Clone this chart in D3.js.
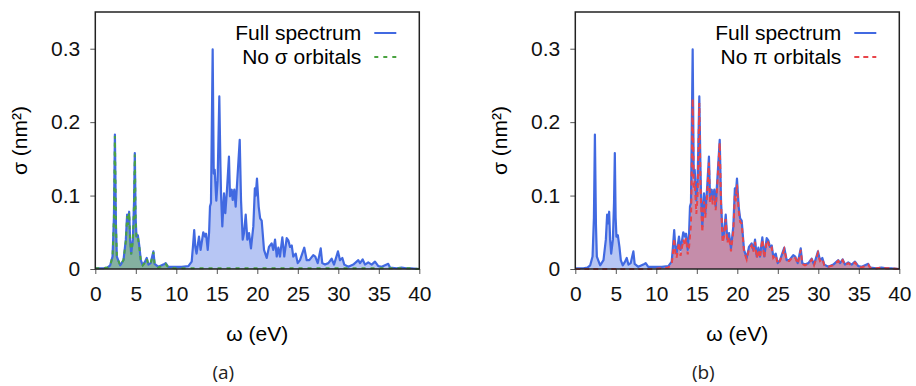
<!DOCTYPE html>
<html>
<head>
  <script src="https://cdnjs.cloudflare.com/ajax/libs/d3/7.8.5/d3.min.js" type="text/javascript"></script>
  <style>
    body { margin: 0; background: #fff; }
    text { font-family: "Liberation Sans", Arial, sans-serif; }
  </style>
</head>
<body>
  <svg id="chart" width="916" height="386"></svg>
  <script>

// photon energy grid (eV), shared by all three spectra
var omega = [0.0, 1.0, 1.5, 1.84, 2.13, 2.3, 2.42, 2.55, 2.66, 3.07, 3.48, 3.77, 3.93, 4.06, 4.18, 4.3, 4.43, 4.64, 4.78, 4.88,
  4.98, 5.08, 5.25, 5.45, 5.62, 5.86, 6.14, 6.35, 6.56, 6.84, 7.17, 7.33, 7.78, 8.4, 8.69, 9.01, 9.84, 10.67, 11.49, 11.9,
  12.05, 12.21, 12.35, 12.5, 12.8, 13.0, 13.33, 13.55, 13.67, 13.88, 14.05, 14.16, 14.28, 14.49, 14.62, 14.74, 14.94, 15.1, 15.31, 15.45,
  15.52, 15.68, 15.89, 16.05, 16.26, 16.5, 16.63, 16.84, 16.96, 17.16, 17.33, 17.53, 17.83, 17.99, 18.2, 18.36, 18.57, 18.77, 18.98, 19.22,
  19.51, 19.7, 19.8, 19.96, 20.17, 20.35, 20.54, 20.83, 21.16, 21.44, 21.77, 21.98, 22.19, 22.4, 22.6, 22.8, 23.09, 23.33, 23.63, 23.83,
  24.04, 24.25, 24.44, 24.74, 24.99, 25.27, 25.8, 26.1, 26.42, 26.91, 27.16, 27.46, 27.83, 28.02, 28.36, 28.77, 29.18, 29.47, 29.96, 30.21,
  30.5, 30.74, 31.24, 31.85, 32.47, 32.68, 33.01, 33.3, 33.7, 34.12, 34.53, 34.94, 35.36, 36.17, 36.38, 37.2, 37.8, 38.4, 39.0, 40.0];

// cross section (nm^2), full spectrum
var fullSpectrum = [0.001, 0.001, 0.002, 0.005, 0.017, 0.07, 0.183, 0.06, 0.017, 0.005, 0.012, 0.040, 0.074, 0.062, 0.078, 0.04, 0.021, 0.040, 0.09, 0.158,
  0.07, 0.044, 0.046, 0.030, 0.012, 0.005, 0.010, 0.015, 0.006, 0.008, 0.024, 0.007, 0.003, 0.006, 0.008, 0.003, 0.003, 0.003, 0.004, 0.010,
  0.03, 0.053, 0.03, 0.021, 0.044, 0.026, 0.050, 0.044, 0.048, 0.026, 0.05, 0.085, 0.090, 0.299, 0.130, 0.135, 0.093, 0.12, 0.235, 0.14,
  0.103, 0.058, 0.103, 0.076, 0.108, 0.153, 0.099, 0.108, 0.094, 0.108, 0.085, 0.121, 0.176, 0.094, 0.040, 0.049, 0.074, 0.040, 0.049, 0.028,
  0.058, 0.110, 0.1, 0.123, 0.085, 0.069, 0.066, 0.026, 0.015, 0.030, 0.035, 0.026, 0.040, 0.017, 0.029, 0.017, 0.043, 0.017, 0.042, 0.039,
  0.030, 0.032, 0.017, 0.021, 0.008, 0.012, 0.029, 0.012, 0.012, 0.019, 0.017, 0.008, 0.028, 0.008, 0.006, 0.008, 0.014, 0.006, 0.024, 0.012,
  0.015, 0.006, 0.003, 0.006, 0.012, 0.008, 0.013, 0.006, 0.009, 0.006, 0.010, 0.004, 0.003, 0.007, 0.002, 0.001, 0.002, 0.001, 0.001, 0.0];

// spectrum without sigma orbitals
var noSigma = [0.001, 0.001, 0.002, 0.005, 0.017, 0.07, 0.181, 0.06, 0.017, 0.005, 0.012, 0.038, 0.072, 0.06, 0.077, 0.04, 0.02, 0.038, 0.088, 0.156,
  0.068, 0.042, 0.044, 0.028, 0.011, 0.005, 0.009, 0.014, 0.006, 0.008, 0.023, 0.006, 0.002, 0.005, 0.007, 0.002, 0.001, 0.001, 0.001, 0.001,
  0.001, 0.001, 0.001, 0.001, 0.001, 0.001, 0.001, 0.001, 0.001, 0.001, 0.001, 0.001, 0.001, 0.001, 0.001, 0.001, 0.001, 0.001, 0.001, 0.001,
  0.001, 0.001, 0.001, 0.001, 0.001, 0.001, 0.001, 0.001, 0.001, 0.001, 0.001, 0.001, 0.001, 0.001, 0.001, 0.001, 0.001, 0.001, 0.001, 0.001,
  0.001, 0.001, 0.001, 0.001, 0.001, 0.001, 0.001, 0.001, 0.001, 0.001, 0.001, 0.001, 0.001, 0.001, 0.001, 0.001, 0.001, 0.001, 0.001, 0.001,
  0.001, 0.001, 0.001, 0.001, 0.001, 0.001, 0.001, 0.001, 0.001, 0.001, 0.001, 0.001, 0.001, 0.001, 0.001, 0.001, 0.001, 0.001, 0.001, 0.001,
  0.001, 0.001, 0.001, 0.001, 0.001, 0.001, 0.001, 0.001, 0.001, 0.001, 0.001, 0.001, 0.001, 0.001, 0.001, 0.001, 0.001, 0.001, 0.001, 0.0];

// spectrum without pi orbitals
var noPi = [0.0, 0.0, 0.0, 0.0, 0.0, 0.0, 0.0, 0.0, 0.0, 0.0, 0.0, 0.0, 0.0, 0.0, 0.0, 0.0, 0.0, 0.0, 0.0, 0.0,
  0.0, 0.0, 0.0, 0.0, 0.0, 0.0, 0.0, 0.0, 0.0, 0.0, 0.0, 0.0, 0.0, 0.0, 0.0, 0.0, 0.0, 0.001, 0.002, 0.007,
  0.02, 0.042, 0.022, 0.015, 0.036, 0.018, 0.040, 0.032, 0.042, 0.020, 0.03, 0.045, 0.060, 0.232, 0.110, 0.120, 0.075, 0.10, 0.226, 0.12,
  0.090, 0.050, 0.092, 0.070, 0.100, 0.145, 0.090, 0.100, 0.088, 0.100, 0.080, 0.115, 0.172, 0.090, 0.036, 0.044, 0.068, 0.036, 0.044, 0.024,
  0.052, 0.100, 0.092, 0.115, 0.080, 0.064, 0.062, 0.024, 0.013, 0.027, 0.032, 0.023, 0.037, 0.015, 0.026, 0.015, 0.040, 0.015, 0.039, 0.036,
  0.027, 0.029, 0.015, 0.019, 0.007, 0.011, 0.027, 0.011, 0.011, 0.017, 0.015, 0.007, 0.026, 0.007, 0.005, 0.007, 0.013, 0.005, 0.022, 0.011,
  0.014, 0.005, 0.003, 0.005, 0.011, 0.007, 0.012, 0.005, 0.008, 0.005, 0.009, 0.003, 0.002, 0.006, 0.002, 0.001, 0.002, 0.001, 0.001, 0.0];

var xTicks = [0, 5, 10, 15, 20, 25, 30, 35, 40];
var yTicks = [0, 0.1, 0.2, 0.3];

var svg = d3.select("#chart");

function drawPanel(left, other, otherName, otherLine, otherFill, dash, caption) {
  var right = left + 324, top = 12, bottom = 269;

  var x = d3.scaleLinear().domain([0, 40]).range([left, right]);
  var y = d3.scaleLinear().domain([0, 0.35]).range([bottom, top]);

  var g = svg.append("g");

  var area = function(vals) {
    return d3.area()
      .x(function(d, i) { return x(omega[i]); })
      .y0(y(0))
      .y1(function(d) { return y(d); })(vals);
  };
  var line = function(vals) {
    return d3.line()
      .x(function(d, i) { return x(omega[i]); })
      .y(function(d) { return y(d); })(vals);
  };

  // fills
  g.append("path").attr("d", area(fullSpectrum)).attr("fill", "rgba(65,105,225,0.38)");
  g.append("path").attr("d", area(other)).attr("fill", otherFill);

  // lines
  g.append("path").attr("d", line(fullSpectrum))
    .attr("fill", "none").attr("stroke", "#4169e1").attr("stroke-width", 2.2).attr("stroke-linejoin", "round");
  g.append("path").attr("d", line(other))
    .attr("fill", "none").attr("stroke", otherLine).attr("stroke-width", 2).attr("stroke-dasharray", dash);

  // axes
  var xAxis = g.append("g").attr("transform", "translate(0," + bottom + ")")
    .call(d3.axisBottom(x).tickValues(xTicks).tickSize(5).tickPadding(12));
  var yAxis = g.append("g").attr("transform", "translate(" + left + ",0)")
    .call(d3.axisLeft(y).tickValues(yTicks).tickSize(5).tickPadding(10)
      .tickFormat(function(d) { return d === 0 ? "0" : d3.format(".1f")(d); }));
  [xAxis, yAxis].forEach(function(a) {
    a.select(".domain").remove();
    a.selectAll("line").attr("stroke", "#555");
    a.selectAll("text").attr("font-size", 21).attr("fill", "#111")
      .style("font-family", "'Liberation Sans', Arial, sans-serif");
  });

  // frame
  g.append("rect").attr("x", left).attr("y", top).attr("width", right - left).attr("height", bottom - top)
    .attr("fill", "none").attr("stroke", "#222").attr("stroke-width", 1.5);

  // axis titles
  g.append("text").attr("x", (left + right) / 2).attr("y", 341).attr("text-anchor", "middle")
    .attr("font-size", 21).text("ω (eV)");
  g.append("text").attr("transform", "translate(" + (left - 68) + "," + ((top + bottom) / 2) + ") rotate(-90)")
    .attr("text-anchor", "middle").attr("font-size", 21).text("σ (nm²)");

  // legend
  var lx = right - 58;
  g.append("text").attr("x", lx).attr("y", 40).attr("text-anchor", "end").attr("font-size", 21).text("Full spectrum");
  g.append("line").attr("x1", lx + 13).attr("x2", lx + 35).attr("y1", 33).attr("y2", 33)
    .attr("stroke", "#4169e1").attr("stroke-width", 2);
  g.append("text").attr("x", lx).attr("y", 64).attr("text-anchor", "end").attr("font-size", 21).text(otherName);
  g.append("line").attr("x1", lx + 13).attr("x2", lx + 35).attr("y1", 57).attr("y2", 57)
    .attr("stroke", otherLine).attr("stroke-width", 2).attr("stroke-dasharray", dash);

  // caption
  g.append("text").attr("x", (left + right) / 2 - 34).attr("y", 379).attr("text-anchor", "middle")
    .attr("font-size", 19).style("font-family", "'Open Sans', sans-serif").attr("fill", "#222").text(caption);
}

drawPanel(95.3, noSigma, "No σ orbitals", "#4aa340", "rgba(70,150,60,0.45)", "4,5", "(a)");
drawPanel(575.3, noPi, "No π orbitals", "#e8454a", "rgba(215,70,80,0.45)", "5,4", "(b)");

  </script>
</body>
</html>
